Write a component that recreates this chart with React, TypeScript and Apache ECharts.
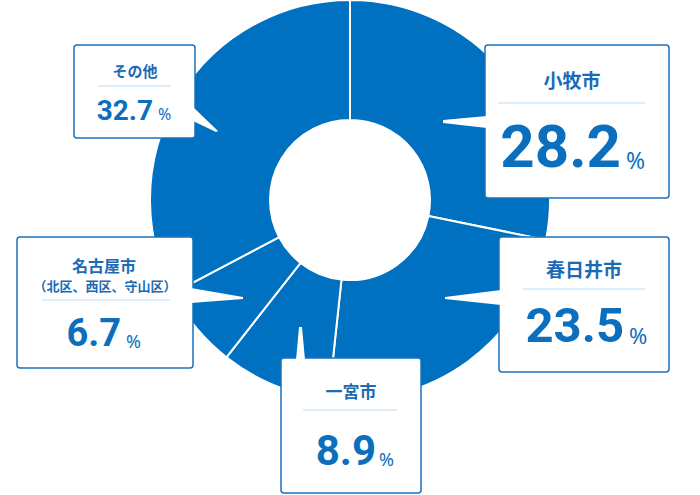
import React, { useEffect, useRef } from "react";
import * as echarts from "echarts";

const categories = ["小牧市", "春日井市", "一宮市", "名古屋市", "その他"];
const subLabels = ["", "", "", "（北区、西区、守山区）", ""];
const shares = [28.2, 23.5, 8.9, 6.7, 32.7];
const unit = "%";

const PIE_BLUE = "#0071c1";
const BOX_BLUE = "#1a73bf";
const TEXT_BLUE = "#1a6bb6";
const NUM_BLUE = "#0b6fbe";
const DIV_COLOR = "#d2e7f7";

// layout of each callout box (positions/sizes only)
const layouts = [
  { box: [485, 45, 184, 153], tx: 572, ty: 79, tfs: 19, sy: 0, sfs: 0, div: [498, 645, 103], vr: 621, base: 168, F: 60, f: 23, gap: 5,
    ptr: [[487, 116], [443, 120], [443, 123], [487, 128]] },
  { box: [499, 237, 170, 135], tx: 584, ty: 268, tfs: 19, sy: 0, sfs: 0, div: [523, 645, 289], vr: 624, base: 343, F: 49, f: 22, gap: 5,
    ptr: [[501, 290], [445, 297], [445, 299], [501, 305]] },
  { box: [281, 358, 140, 135], tx: 351, ty: 390, tfs: 17, sy: 0, sfs: 0, div: [303, 397, 410], vr: 376, base: 465, F: 42, f: 18, gap: 3,
    ptr: [[296, 360], [299, 327], [302, 327], [305, 360]] },
  { box: [17, 237, 176, 131], tx: 104, ty: 265, tfs: 16, sy: 285, sfs: 13, div: [42, 170, 300], vr: 121, base: 347, F: 38, f: 18, gap: 5,
    ptr: [[191, 288], [243, 297], [243, 299], [191, 303]] },
  { box: [74, 45, 121, 93], tx: 135, ty: 70, tfs: 15, sy: 0, sfs: 0, div: [98, 171, 86], vr: 153, base: 120, F: 28, f: 16, gap: 5,
    ptr: [[193, 107], [218, 131], [216, 132], [193, 121]] },
];

const JP = '"Noto Sans CJK JP", "Noto Sans", sans-serif';
const NUM = 'Roboto, "Noto Sans", sans-serif';

function buildGraphics() {
  const els: any[] = [];
  categories.forEach((name, i) => {
    const L = layouts[i];
    const [bx, by, bw, bh] = L.box;
    els.push({
      type: "rect",
      z: 100,
      shape: { x: bx, y: by, width: bw, height: bh, r: 3 },
      style: { fill: "#ffffff", stroke: BOX_BLUE, lineWidth: 1.5 },
    });
    els.push({
      type: "polygon",
      z: 101,
      shape: { points: L.ptr },
      style: { fill: "#ffffff", stroke: "none" },
    });
    els.push({
      type: "text",
      z: 102,
      x: L.tx,
      y: L.ty,
      style: {
        text: name, fill: TEXT_BLUE, fontSize: L.tfs, fontWeight: 700, fontFamily: JP,
        align: "center", verticalAlign: "middle", textAlign: "center", textVerticalAlign: "middle",
      },
    });
    if (subLabels[i]) {
      els.push({
        type: "text",
        z: 102,
        x: L.tx + 1,
        y: L.sy,
        style: {
          text: subLabels[i], fill: TEXT_BLUE, fontSize: L.sfs, fontWeight: 700, fontFamily: JP,
          align: "center", verticalAlign: "middle", textAlign: "center", textVerticalAlign: "middle",
        },
      });
    }
    els.push({
      type: "line",
      z: 102,
      shape: { x1: L.div[0], y1: L.div[2], x2: L.div[1], y2: L.div[2] },
      style: { stroke: DIV_COLOR, lineWidth: 1.5 },
    });
    els.push({
      type: "text",
      z: 102,
      x: L.vr,
      y: L.base - 0.357 * L.F,
      style: {
        text: shares[i].toFixed(1), fill: NUM_BLUE, fontSize: L.F, fontWeight: 700, fontFamily: NUM,
        align: "right", verticalAlign: "middle", textAlign: "right", textVerticalAlign: "middle",
      },
    });
    els.push({
      type: "text",
      z: 102,
      x: L.vr + L.gap,
      y: L.base - 0.357 * L.f,
      style: {
        text: unit, fill: NUM_BLUE, fontSize: L.f, fontWeight: 400, fontFamily: '"Noto Sans", sans-serif',
        align: "left", verticalAlign: "middle", textAlign: "left", textVerticalAlign: "middle",
      },
    });
  });
  return els;
}

export default function App() {
  const ref = useRef<HTMLDivElement>(null);
  useEffect(() => {
    if (!ref.current) return;
    const chart = echarts.init(ref.current, undefined, { renderer: "svg" });
    chart.setOption({
      animation: false,
      backgroundColor: "#ffffff",
      series: [
        {
          type: "pie",
          center: [350, 200],
          radius: [80, 200],
          startAngle: 90,
          clockwise: true,
          silent: true,
          label: { show: false },
          labelLine: { show: false },
          itemStyle: { color: PIE_BLUE, borderColor: "#ffffff", borderWidth: 2 },
          data: categories.map((name, i) => ({ name, value: shares[i] })),
        },
      ],
      graphic: buildGraphics(),
    });
    return () => chart.dispose();
  }, []);
  return (
    <div
      ref={ref}
      style={{ position: "fixed", left: 0, top: 0, width: 700, height: 495, background: "#fff" }}
    />
  );
}
